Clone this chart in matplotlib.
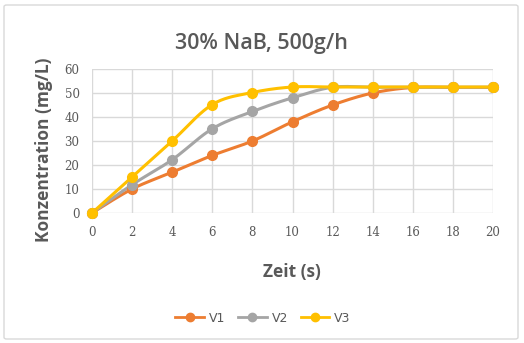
import numpy as np
import matplotlib
matplotlib.use("Agg")
import matplotlib.pyplot as plt
from matplotlib.patches import FancyBboxPatch
from matplotlib.lines import Line2D

time_s = [0, 2, 4, 6, 8, 10, 12, 14, 16, 18, 20]
v1 = [0, 10, 17, 24, 30, 38, 45, 50, 52.3, 52.3, 52.3]
v2 = [0, 11.8, 22.2, 35.1, 42.3, 48, 52.4, 52.4, 52.4, 52.4, 52.4]
v3 = [0, 15, 30, 45.2, 50.2, 52.5, 52.5, 52.5, 52.5, 52.5, 52.5]
series_names = ["V1", "V2", "V3"]
colors = ["#ED7D31", "#A5A5A5", "#FFC000"]
x_ticks = [0, 2, 4, 6, 8, 10, 12, 14, 16, 18, 20]
y_ticks = [0, 10, 20, 30, 40, 50, 60]


def smooth(x, y, n=20, t=1 / 6):
    x = np.asarray(x, float)
    y = np.asarray(y, float)
    xs, ys = [x[0]], [y[0]]
    for i in range(len(x) - 1):
        p0 = np.array([x[max(i - 1, 0)], y[max(i - 1, 0)]])
        p1 = np.array([x[i], y[i]])
        p2 = np.array([x[i + 1], y[i + 1]])
        p3 = np.array([x[min(i + 2, len(x) - 1)], y[min(i + 2, len(x) - 1)]])
        c1 = p1 + (p2 - p0) * t
        c2 = p2 - (p3 - p1) * t
        s = np.linspace(0, 1, n)[1:, None]
        b = ((1 - s) ** 3) * p1 + 3 * ((1 - s) ** 2) * s * c1 + 3 * (1 - s) * s ** 2 * c2 + s ** 3 * p2
        xs.extend(b[:, 0])
        ys.extend(b[:, 1])
    return np.array(xs), np.array(ys)


W, H = 524, 343
fig = plt.figure(figsize=(W / 100, H / 100), dpi=100)
fig.patches.append(FancyBboxPatch((4 / W, 4 / H), 514 / W, 334 / H, boxstyle="round,pad=0,rounding_size=0.005",
                                  transform=fig.transFigure, fill=False, edgecolor="#D9D9D9", linewidth=1))

ax = fig.add_axes([92 / W, 1 - 213 / H, (493 - 92) / W, (213 - 69) / H])
ax.set_xlim(0, 20)
ax.set_ylim(0, 60)
ax.set_xticks(x_ticks)
ax.set_yticks(y_ticks)
ax.grid(True, color="#D9D9D9", linewidth=1)
ax.set_axisbelow(True)
for s in ax.spines.values():
    s.set_visible(False)
ax.tick_params(length=0, colors="#595959", labelsize=9.5, pad=9)
for lab in ax.get_xticklabels() + ax.get_yticklabels():
    lab.set_family("DejaVu Serif")
    lab.set_fontsize(8.5)

for vals, c in zip([v1, v2, v3], colors):
    xs, ys = smooth(time_s, vals)
    ax.plot(xs, ys, color=c, linewidth=2.2, clip_on=False, solid_capstyle="round")
    ax.plot(time_s, vals, "o", color=c, markersize=7, clip_on=False, zorder=3)

fig.text(261 / W, 1 - 43 / H, "30% NaB, 500g/h", ha="center", va="center", fontsize=15.5,
         color="#595959", family="Open Sans", fontweight="semibold")
fig.text(292 / W, 1 - 272 / H, "Zeit (s)", ha="center", va="center", fontsize=12.5,
         fontweight="bold", color="#595959", family="Open Sans")
fig.text(44 / W, 1 - 150 / H, "Konzentration (mg/L)", ha="center", va="center", fontsize=12.5,
         fontweight="bold", color="#595959", family="Open Sans", rotation=90)

handles = [Line2D([0], [0], color=c, marker="o", markersize=6, linewidth=2) for c in colors]
leg = fig.legend(handles, series_names, loc="center", bbox_to_anchor=(263 / W, 1 - 318 / H), ncol=3,
                 frameon=False, fontsize=9, handlelength=2.3, columnspacing=1.0, handletextpad=0.4)
for t in leg.get_texts():
    t.set_color("#595959")

fig.savefig("out.png", dpi=100)
